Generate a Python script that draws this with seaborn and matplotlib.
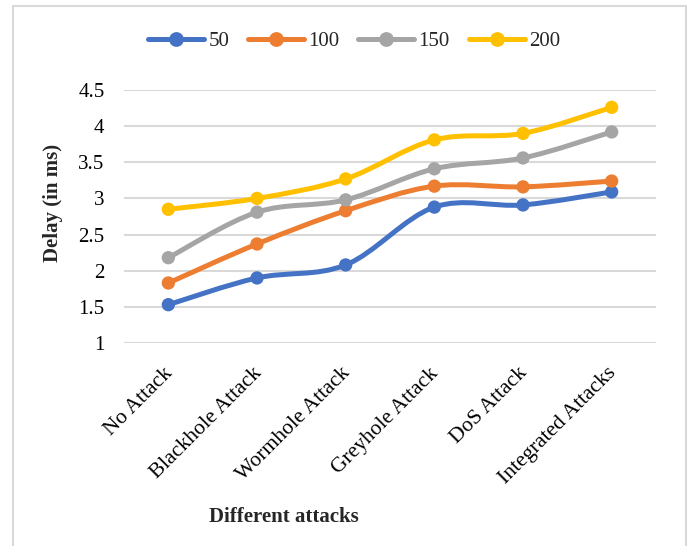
import numpy as np
import pandas as pd
import seaborn as sns
import matplotlib
matplotlib.use("Agg")
import matplotlib.pyplot as plt
from matplotlib.path import Path
from matplotlib.patches import PathPatch, Rectangle
from matplotlib.lines import Line2D
from matplotlib.transforms import ScaledTranslation

# Data
attacks = ["No Attack", "Blackhole Attack", "Wormhole Attack",
           "Greyhole Attack", "DoS Attack", "Integrated Attacks"]
series_names = ["50", "100", "150", "200"]
delay_50 = [1.53, 1.90, 2.08, 2.88, 2.91, 3.09]
delay_100 = [1.83, 2.37, 2.83, 3.17, 3.16, 3.24]
delay_150 = [2.18, 2.81, 2.98, 3.41, 3.56, 3.92]
delay_200 = [2.85, 3.00, 3.27, 3.81, 3.90, 4.26]
y_ticks = [1, 1.5, 2, 2.5, 3, 3.5, 4, 4.5]
y_tick_labels = ["1", "1.5", "2", "2.5", "3", "3.5", "4", "4.5"]

colors = ["#4472C4", "#ED7D31", "#A5A5A5", "#FFC000"]

df = pd.DataFrame({
    "attack": attacks * 4,
    "delay": delay_50 + delay_100 + delay_150 + delay_200,
    "nodes": sum([[n] * len(attacks) for n in series_names], []),
})

sns.set_theme(style="white")
plt.rcParams["font.family"] = ["Liberation Serif", "DejaVu Serif"]

fig = plt.figure(figsize=(6.91, 5.46), dpi=100)
ax = fig.add_axes([124 / 691, 1 - 343 / 546, 532 / 691, 253 / 546])

LW = 3.6
MS = 9.6


def smooth_path(xs, ys):
    """Cardinal-spline style Bezier path through the given points."""
    pts = np.column_stack([xs, ys]).astype(float)
    n = len(pts)
    verts = [pts[0]]
    codes = [Path.MOVETO]
    for i in range(n - 1):
        p0 = pts[i - 1] if i > 0 else pts[i]
        p1 = pts[i]
        p2 = pts[i + 1]
        p3 = pts[i + 2] if i + 2 < n else pts[i + 1]
        c1 = p1 + (p2 - p0) / 6.0
        c2 = p2 - (p3 - p1) / 6.0
        verts += [c1, c2, p2]
        codes += [Path.CURVE4] * 3
    return Path(verts, codes)


for name, col in zip(series_names, colors):
    sub = df[df["nodes"] == name]
    xs = [attacks.index(a) for a in sub["attack"]]
    patch = PathPatch(smooth_path(xs, sub["delay"].values), facecolor="none",
                      edgecolor=col, lw=LW, capstyle="round", joinstyle="round",
                      zorder=3)
    ax.add_patch(patch)

sns.scatterplot(data=df, x="attack", y="delay", hue="nodes",
                palette=colors, s=MS ** 2, edgecolor="none", linewidth=0,
                legend=False, ax=ax, zorder=4)

ax.set_xlim(-0.5, len(attacks) - 0.5)
ax.set_ylim(1, 4.5)
ax.set_yticks(y_ticks)
ax.set_yticklabels(y_tick_labels, fontsize=15, color="#000000")
ax.set_xticks(range(len(attacks)))
ax.set_xticklabels(attacks, fontsize=15.5, rotation=45, ha="right",
                   rotation_mode="anchor", color="#000000")
ax.tick_params(axis="x", length=0, pad=15)
ax.tick_params(axis="y", length=0, pad=14)
shift = ScaledTranslation(-5 / 100, 0, fig.dpi_scale_trans)
for lbl in ax.get_xticklabels():
    lbl.set_transform(lbl.get_transform() + shift)
ax.grid(axis="y", color="#D9D9D9", lw=1.5)
ax.set_axisbelow(True)
for sp in ax.spines.values():
    sp.set_visible(False)
ax.set_xlabel("")
ax.set_ylabel("")

fig.text(284 / 691, 1 - 517 / 546, "Different attacks", fontsize=15,
         fontweight="bold", ha="center", va="center")
fig.text(53 / 691, 1 - 203 / 546, "Delay (in ms)", fontsize=15,
         fontweight="bold", ha="center", va="center", rotation=90)

handles = [Line2D([0], [0], color=c, lw=LW, marker="o", markersize=MS,
                  solid_capstyle="round") for c in colors]
fig.legend(handles, series_names, loc="center", ncol=4,
           bbox_to_anchor=(354 / 691, 1 - 41 / 546), frameon=False,
           fontsize=15, handlelength=2.7, handletextpad=0.2,
           columnspacing=0.9)

fig.patches.append(Rectangle((13 / 691, -0.05), (686 - 13) / 691, 1.05 - 6 / 546,
                             transform=fig.transFigure, fill=False,
                             edgecolor="#D9D9D9", lw=1.5))

fig.savefig("out.png", dpi=100)
